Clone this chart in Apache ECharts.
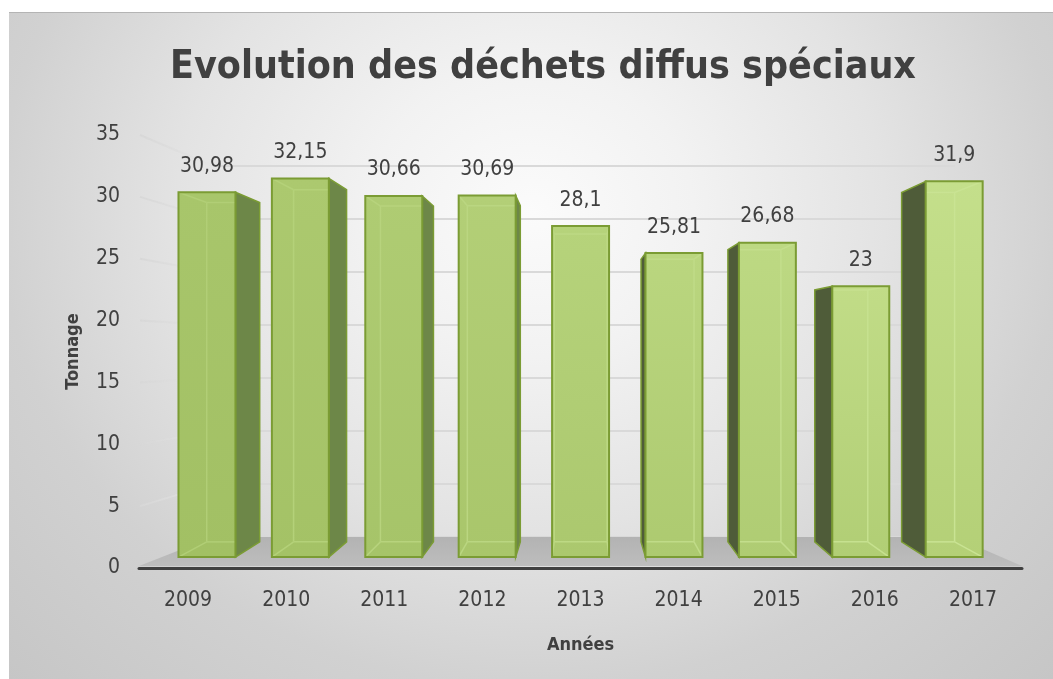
<!DOCTYPE html>
<html>
<head>
<meta charset="utf-8">
<script src="https://cdn.jsdelivr.net/npm/echarts@6/dist/echarts.min.js"></script>
<style>
  html, body { margin: 0; padding: 0; background: #ffffff; width: 1053px; height: 679px; overflow: hidden; }
  #chart {
    position: absolute; left: 9px; top: 12px; width: 1044px; height: 666px;
    border-top: 1px solid #b4b4b4;
    background: radial-gradient(ellipse at 50% 30%, #fbfbfb 0%, #f2f2f2 22%, #e3e3e3 48%, #d1d1d1 72%, #c6c6c6 100%);
  }
</style>
</head>
<body>
<div id="chart"></div>
<script>
// ---- data ----
const years = ['2009', '2010', '2011', '2012', '2013', '2014', '2015', '2016', '2017'];
const tonnage = [30.98, 32.15, 30.66, 30.69, 28.1, 25.81, 26.68, 23, 31.9];
const yTicks = [0, 5, 10, 15, 20, 25, 30, 35];

const FONT = "'Liberation Sans Narrow', 'DejaVu Sans Condensed', 'Liberation Sans', sans-serif";
const TEXT = '#404040';

// perspective settings (layout only)
const VP = [573, 327];      // vanishing point in chart pixels
const KF = 0.952;           // front plane of bars relative to axis plane
const KD = 0.93;            // back plane of bars relative to front plane
const BAR_FRAC = 0.61;
const BACK = { left: 204, right: 98, top: 153, bottom: 142 };   // back wall grid
const FRONT = { left: 130, right: 31, top: 122, bottom: 111 };  // axis grid

const chart = echarts.init(document.getElementById('chart'));
const W = 1044, H = 666;

function P(pt, k) { return [VP[0] + (pt[0] - VP[0]) * k, VP[1] + (pt[1] - VP[1]) * k]; }
function hex(c) { return [parseInt(c.slice(1, 3), 16), parseInt(c.slice(3, 5), 16), parseInt(c.slice(5, 7), 16)]; }
function mix(a, b, t) {
  const A = hex(a), B = hex(b);
  return 'rgb(' + A.map((x, i) => Math.round(x + (B[i] - x) * t)).join(',') + ')';
}
function backY(v) { return BACK.top + (1 - v / 35) * (H - BACK.top - BACK.bottom); }

function renderBar(params, api) {
  const i = api.value(0), v = api.value(1);
  const c = api.coord([i, v]);
  const c0 = api.coord([i, 0]);
  const hw = api.size([1, 0])[0] * BAR_FRAC / 2;
  const fTL = P([c[0] - hw, c[1]], KF), fTR = P([c[0] + hw, c[1]], KF);
  const fBL = P([c[0] - hw, c0[1]], KF), fBR = P([c[0] + hw, c0[1]], KF);
  const bTL = P(fTL, KD), bTR = P(fTR, KD), bBL = P(fBL, KD), bBR = P(fBR, KD);
  const cs = params.coordSys;
  const t = Math.max(0, Math.min(1, (fTL[0] - cs.x) / cs.width));
  const children = [];
  const border = '#7b9c34';
  // side faces
  if (bTR[0] > fTR[0] + 0.5) {
    children.push({ type: 'polygon', shape: { points: [fTR, bTR, bBR, fBR] },
      style: { fill: '#6d8748', stroke: border, lineWidth: 1.5 } });
  }
  if (bTL[0] < fTL[0] - 0.5) {
    children.push({ type: 'polygon', shape: { points: [fTL, bTL, bBL, fBL] },
      style: { fill: '#4f5c39', stroke: border, lineWidth: 1.5 } });
  }
  // front face fill
  children.push({ type: 'rect',
    shape: { x: fTL[0], y: fTL[1], width: fTR[0] - fTL[0], height: fBL[1] - fTL[1] },
    style: { fill: new echarts.graphic.LinearGradient(0, 0, 0, 1, [
      { offset: 0, color: mix('#a7c569', '#c8e28f', t) },
      { offset: 1, color: mix('#a1bf63', '#b6d27a', t) }
    ]) } });
  // inner (see-through) edges
  const inner = { stroke: mix('#b0cd74', '#cce697', t), lineWidth: 1.5, fill: null };
  const xl = Math.max(fTL[0], bTL[0]), xr = Math.min(fTR[0], bTR[0]);
  children.push({ type: 'line', shape: { x1: xl, y1: bTL[1], x2: xr, y2: bTR[1] }, style: inner });
  children.push({ type: 'line', shape: { x1: xl, y1: bBL[1], x2: xr, y2: bBR[1] }, style: inner });
  if (bTL[0] > fTL[0] + 0.5) {
    children.push({ type: 'line', shape: { x1: bTL[0], y1: bTL[1], x2: bBL[0], y2: bBL[1] }, style: inner });
    children.push({ type: 'line', shape: { x1: fTL[0], y1: fTL[1], x2: bTL[0], y2: bTL[1] }, style: inner });
    children.push({ type: 'line', shape: { x1: fBL[0], y1: fBL[1], x2: bBL[0], y2: bBL[1] }, style: inner });
  }
  if (bTR[0] < fTR[0] - 0.5) {
    children.push({ type: 'line', shape: { x1: bTR[0], y1: bTR[1], x2: bBR[0], y2: bBR[1] }, style: inner });
    children.push({ type: 'line', shape: { x1: fTR[0], y1: fTR[1], x2: bTR[0], y2: bTR[1] }, style: inner });
    children.push({ type: 'line', shape: { x1: fBR[0], y1: fBR[1], x2: bBR[0], y2: bBR[1] }, style: inner });
  }
  // front border
  children.push({ type: 'rect',
    shape: { x: fTL[0], y: fTL[1], width: fTR[0] - fTL[0], height: fBL[1] - fTL[1] },
    style: { fill: null, stroke: border, lineWidth: 2 } });
  // value label
  children.push({ type: 'text',
    style: { x: (fTL[0] + fTR[0]) / 2, y: fTL[1] - 26, text: String(v).replace('.', ','),
      fill: TEXT, font: '21px ' + FONT, align: 'center', verticalAlign: 'middle' } });
  return { type: 'group', children };
}

function renderWall(params, api) {
  const v = api.value(0);
  const cs = params.coordSys;
  const fy = api.coord([0, v])[1];
  const bx = BACK.left, by = backY(v);
  if (v === 0) {
    const bxr = W - BACK.right;
    return { type: 'polygon',
      shape: { points: [[cs.x, fy - 2], [cs.x + cs.width, fy - 2], [bxr, by], [bx, by]] },
      style: { fill: new echarts.graphic.LinearGradient(0, 0, 0, 1, [
        { offset: 0, color: '#b3b3b3' }, { offset: 1, color: '#bdbdbd' }]) } };
  }
  return { type: 'line', shape: { x1: cs.x + 1, y1: fy, x2: bx, y2: by },
    style: { stroke: new echarts.graphic.LinearGradient(0, 0, 1, 0, [
      { offset: 0, color: 'rgba(215,215,215,1)' }, { offset: 1, color: 'rgba(228,228,228,0.6)' }]), lineWidth: 2 } };
}

const option = {
  animation: false,
  backgroundColor: 'transparent',
  title: {
    text: 'Evolution des déchets diffus spéciaux',
    left: 529, top: 30, textAlign: 'center',
    textStyle: { fontFamily: FONT, fontWeight: 'bold', fontSize: 39, color: TEXT }
  },
  grid: [
    { left: BACK.left, right: BACK.right, top: BACK.top, bottom: BACK.bottom },
    { left: FRONT.left, right: FRONT.right, top: FRONT.top, bottom: FRONT.bottom }
  ],
  xAxis: [
    { gridIndex: 0, type: 'category', data: years, show: false },
    { gridIndex: 1, type: 'category', data: years,
      axisLine: { lineStyle: { color: '#404040', width: 3 } },
      axisTick: { show: false },
      axisLabel: { color: TEXT, fontFamily: FONT, fontSize: 21, margin: 22 },
      name: 'Années', nameLocation: 'middle', nameGap: 68,
      nameTextStyle: { color: TEXT, fontFamily: FONT, fontWeight: 'bold', fontSize: 18 } }
  ],
  yAxis: [
    { gridIndex: 0, type: 'value', min: 0, max: 35, interval: 5,
      axisLabel: { show: false }, axisLine: { show: false }, axisTick: { show: false },
      splitLine: { lineStyle: { color: '#d9d9d9', width: 2 } } },
    { gridIndex: 1, type: 'value', min: 0, max: 35, interval: 5,
      axisLine: { show: false }, axisTick: { show: false }, splitLine: { show: false },
      axisLabel: { color: TEXT, fontFamily: FONT, fontSize: 21, margin: 19 },
      name: 'Tonnage', nameLocation: 'middle', nameRotate: 90, nameGap: 57,
      nameTextStyle: { color: TEXT, fontFamily: FONT, fontWeight: 'bold', fontSize: 18 } }
  ],
  series: [
    { type: 'custom', name: 'wall', xAxisIndex: 1, yAxisIndex: 1, z: 1, silent: true,
      data: yTicks.map(v => [v]), encode: { y: 0 }, renderItem: renderWall, clip: false },
    { type: 'custom', name: 'Tonnage', xAxisIndex: 1, yAxisIndex: 1, z: 3,
      data: tonnage.map((v, i) => [i, v]), encode: { x: 0, y: 1 }, renderItem: renderBar, clip: false }
  ]
};
chart.setOption(option);
</script>
</body>
</html>
